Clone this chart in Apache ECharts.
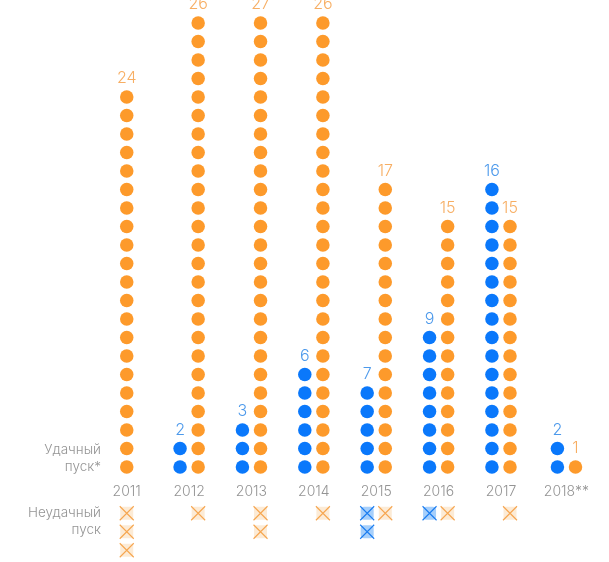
<!DOCTYPE html>
<html>
<head>
<meta charset="utf-8">
<style>
  html, body { margin: 0; padding: 0; background: #fff; }
  #chart { width: 609px; height: 562px; }
</style>
<script src="https://cdn.jsdelivr.net/npm/echarts@6/dist/echarts.min.js"></script>
</head>
<body>
<div id="chart"></div>
<script>
const years = ["2011", "2012", "2013", "2014", "2015", "2016", "2017", "2018**"];
const blueOk = [0, 2, 3, 6, 5, 8, 16, 2];
const orangeOk = [21, 25, 25, 25, 16, 14, 14, 1];
const blueFail = [0, 0, 0, 0, 2, 1, 0, 0];
const orangeFail = [3, 1, 2, 1, 1, 1, 1, 0];
const blueTotal = [0, 2, 3, 6, 7, 9, 16, 2];
const orangeTotal = [24, 26, 27, 26, 17, 15, 15, 1];

const BLUE = "#0a78fb";
const ORANGE = "#fd9a2b";
const BLUE_TEXT = "#1f7fe6";
const ORANGE_TEXT = "#f59a3c";
const GREY = "#949494";
const FONT = "Inter, Roboto, sans-serif";
const CROSS = "path://M0 0L20 20M20 0L0 20";

// смещение столбика от центра года
const SHIFT = 0.145;

// 2018 стоит чуть правее общей сетки
function slot(i) {
  return i === 7 ? 7.05 : i;
}
function blueX(i) {
  return slot(i) + (i === 0 ? 0 : -SHIFT);
}
function orangeX(i) {
  return slot(i) + (i === 0 ? 0 : SHIFT);
}

function dots(counts, getX) {
  const out = [];
  counts.forEach((n, i) => {
    for (let k = 0; k < n; k++) out.push([getX(i), k]);
  });
  return out;
}

// неудачные пуски идут вниз под подписями годов
function fails(counts, getX) {
  const out = [];
  counts.forEach((n, i) => {
    for (let k = 0; k < n; k++) out.push([getX(i), -2.5 - k]);
  });
  return out;
}

function totals(okCounts, totalCounts, getX) {
  const out = [];
  totalCounts.forEach((t, i) => {
    if (t > 0) out.push({ value: [getX(i), okCounts[i] - 1], total: t });
  });
  return out;
}

function dotSeries(data, color) {
  return {
    type: "scatter",
    data,
    symbol: "circle",
    symbolSize: 13.5,
    itemStyle: { color, opacity: 1 },
    silent: true
  };
}

function failBack(data, color, symbol) {
  return {
    type: "scatter",
    data,
    symbol,
    symbolSize: 13,
    itemStyle: { color, opacity: 1 },
    silent: true
  };
}

function failCross(data, color) {
  return {
    type: "scatter",
    data,
    symbol: CROSS,
    symbolSize: 14,
    itemStyle: { color: "none", borderColor: color, borderWidth: 1.1, opacity: 1 },
    silent: true
  };
}

function totalSeries(okCounts, totalCounts, getX, color) {
  return {
    type: "scatter",
    data: totals(okCounts, totalCounts, getX),
    symbolSize: 13,
    itemStyle: { color: "transparent" },
    silent: true,
    label: {
      show: true,
      position: "top",
      distance: 4,
      color,
      fontFamily: FONT,
      fontSize: 16,
      fontWeight: 300,
      formatter: (p) => p.data.total
    }
  };
}

function sideText(lines, topY) {
  return {
    type: "text",
    x: 101,
    y: topY,
    style: {
      text: lines,
      align: "right",
      fill: GREY,
      font: "300 13.5px " + FONT,
      lineHeight: 17
    }
  };
}

function yearLabel(v) {
  const i = years.findIndex((y, n) => slot(n) === v);
  return i < 0 ? "" : years[i];
}

const chart = echarts.init(document.getElementById("chart"), null, { renderer: "canvas" });

chart.setOption({
  animation: false,
  grid: { left: 2, width: 605, top: 4.5, height: 555 },
  xAxis: {
    type: "value",
    min: -2,
    max: 7.7,
    offset: -83,
    splitLine: { show: false },
    axisLine: { show: false, onZero: false },
    axisTick: { show: false },
    axisLabel: {
      show: true,
      color: GREY,
      fontFamily: FONT,
      fontSize: 14,
      fontWeight: 300,
      customValues: years.map((y, i) => slot(i)),
      formatter: yearLabel
    }
  },
  yAxis: {
    type: "value",
    min: -5,
    max: 25,
    show: false
  },
  graphic: [
    sideText("Удачный\nпуск*", 441),
    sideText("Неудачный\nпуск", 504)
  ],
  series: [
    dotSeries(dots(blueOk, blueX), BLUE),
    dotSeries(dots(orangeOk, orangeX), ORANGE),
    failBack(fails(orangeFail, orangeX), "#fcebd6", "rect"),
    failBack(fails(blueFail, blueX), "#a6cffb", "roundRect"),
    failCross(fails(orangeFail, orangeX), "#f6a650"),
    failCross(fails(blueFail, blueX), "#1a7cf0"),
    totalSeries(blueOk, blueTotal, blueX, BLUE_TEXT),
    totalSeries(orangeOk, orangeTotal, orangeX, ORANGE_TEXT)
  ]
});
</script>
</body>
</html>
